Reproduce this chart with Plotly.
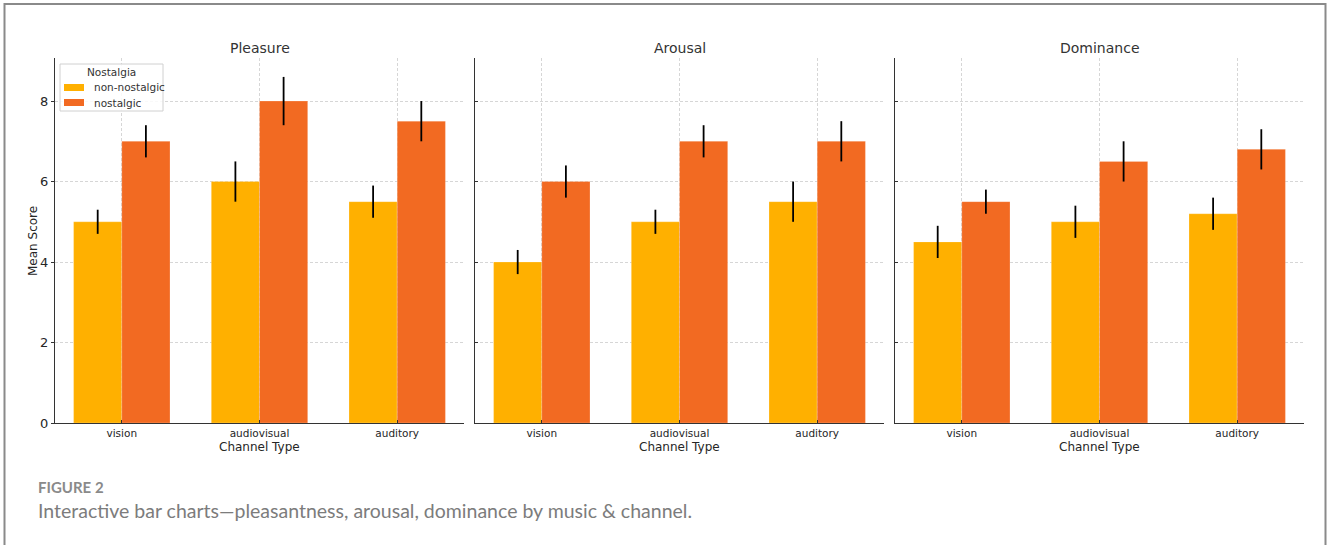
import plotly.graph_objects as go

W, H = 1328, 545

channels = ["vision", "audiovisual", "auditory"]
panels = ["Pleasure", "Arousal", "Dominance"]
groups = ["non-nostalgic", "nostalgic"]

# mean scores per panel
non_nostalgic_mean = {
    "Pleasure": [5.0, 6.0, 5.5],
    "Arousal": [4.0, 5.0, 5.5],
    "Dominance": [4.5, 5.0, 5.2],
}
nostalgic_mean = {
    "Pleasure": [7.0, 8.0, 7.5],
    "Arousal": [6.0, 7.0, 7.0],
    "Dominance": [5.5, 6.5, 6.8],
}
# error half-widths
non_nostalgic_err = {
    "Pleasure": [0.3, 0.5, 0.4],
    "Arousal": [0.3, 0.3, 0.5],
    "Dominance": [0.4, 0.4, 0.4],
}
nostalgic_err = {
    "Pleasure": [0.4, 0.6, 0.5],
    "Arousal": [0.4, 0.4, 0.5],
    "Dominance": [0.3, 0.5, 0.5],
}

colors = {"non-nostalgic": "#FFB000", "nostalgic": "#F26A22"}
font_main = "DejaVu Sans"
text_col = "#262626"

# vertical layout is worked out against this effective page height
HY = 537


def px_x(v):
    return v / W


def px_y(v):
    return 1 - v / HY


# panel placement in pixels (left, right) and plot vertical extent
panel_x = [(55, 464), (475, 884), (895, 1304)]
top_px, bottom_px = 58, 423

fig = go.Figure()
layout = {}
annotations = []
shapes = []

for i, name in enumerate(panels):
    ax = "" if i == 0 else str(i + 1)
    xref, yref = "x" + ax, "y" + ax
    for g, means, errs in (
        ("non-nostalgic", non_nostalgic_mean, non_nostalgic_err),
        ("nostalgic", nostalgic_mean, nostalgic_err),
    ):
        fig.add_trace(
            go.Bar(
                x=channels,
                y=means[name],
                name=g,
                legendgroup=g,
                showlegend=False,
                marker=dict(color=colors[g], line=dict(color="rgba(255,255,255,0.35)", width=0.6)),
                error_y=dict(type="data", array=errs[name], color="#000000", thickness=1.8, width=0),
                xaxis=xref,
                yaxis=yref,
                offsetgroup=g,
            )
        )
    x0, x1 = panel_x[i]
    layout["xaxis" + ax] = dict(
        domain=[px_x(x0), px_x(x1)],
        anchor=yref,
        type="category",
        range=[-0.485, 2.485],
        showline=True,
        linecolor="#333333",
        linewidth=1.2,
        ticks="inside",
        ticklen=3,
        tickcolor="#333333",
        tickfont=dict(family=font_main, size=10.5, color=text_col),
        showgrid=True,
        gridcolor="#d6d6d6",
        gridwidth=0.8,
        griddash="3px,2px",
        zeroline=False,
        fixedrange=True,
    )
    layout["yaxis" + ax] = dict(
        domain=[px_y(bottom_px), px_y(top_px)],
        anchor=xref,
        range=[0, 9.07],
        tickvals=[0, 2, 4, 6, 8],
        showticklabels=(i == 0),
        showline=True,
        linecolor="#333333",
        linewidth=1.2,
        ticks="outside" if i == 0 else "inside",
        ticklen=3,
        tickcolor="#333333",
        tickfont=dict(family=font_main, size=13, color=text_col),
        showgrid=True,
        gridcolor="#d6d6d6",
        gridwidth=0.8,
        griddash="3px,2px",
        zeroline=False,
        fixedrange=True,
    )
    if i > 0:
        layout["yaxis" + ax]["matches"] = "y"
    cx = (x0 + x1) / 2
    annotations.append(dict(
        text=name, x=px_x(cx), y=px_y(48), xref="paper", yref="paper",
        showarrow=False, xanchor="center", yanchor="middle",
        font=dict(family=font_main, size=14, color="#333333"),
    ))
    annotations.append(dict(
        text="Channel Type", x=px_x(cx), y=px_y(447), xref="paper", yref="paper",
        showarrow=False, xanchor="center", yanchor="middle",
        font=dict(family=font_main, size=12, color=text_col),
    ))

annotations.append(dict(
    text="Mean Score", x=px_x(33), y=px_y(241), xref="paper", yref="paper",
    showarrow=False, textangle=-90, xanchor="center", yanchor="middle",
    font=dict(family=font_main, size=12, color=text_col),
))
annotations.append(dict(
    text="<b>FIGURE 2</b>", x=px_x(36), y=px_y(487), xref="paper", yref="paper",
    showarrow=False, xanchor="left", yanchor="middle",
    font=dict(family="Lato", size=15, color="#8a8a8a"),
))
annotations.append(dict(
    text="Interactive bar charts\u2014pleasantness, arousal, dominance by music &amp; channel.",
    x=px_x(36), y=px_y(510), xref="paper", yref="paper",
    showarrow=False, xanchor="left", yanchor="middle",
    font=dict(family="Lato", size=19.5, color="#7c7c7c"),
))

# legend box for the two nostalgia groups
shapes.append(dict(
    type="rect", xref="paper", yref="paper",
    x0=px_x(60), x1=px_x(163), y0=px_y(111), y1=px_y(64),
    line=dict(color="#d0d0d0", width=1), fillcolor="rgba(255,255,255,0.85)", layer="above",
))
annotations.append(dict(
    text="Nostalgia", x=px_x(111.5), y=px_y(72.5), xref="paper", yref="paper",
    showarrow=False, xanchor="center", yanchor="middle",
    font=dict(family=font_main, size=10.5, color="#333333"),
))
for k, g in enumerate(groups):
    yc = 87.5 + 15 * k
    shapes.append(dict(
        type="rect", xref="paper", yref="paper",
        x0=px_x(64), x1=px_x(84), y0=px_y(yc + 3.5), y1=px_y(yc - 3.5),
        line=dict(width=0), fillcolor=colors[g], layer="above",
    ))
    annotations.append(dict(
        text=g, x=px_x(92), y=px_y(yc), xref="paper", yref="paper",
        showarrow=False, xanchor="left", yanchor="middle",
        font=dict(family=font_main, size=10.5, color="#333333"),
    ))

# outer frame
shapes.append(dict(
    type="rect", xref="paper", yref="paper",
    x0=px_x(4.5), x1=px_x(1325.5), y0=-0.05, y1=px_y(4),
    line=dict(color="#8a8a8a", width=2), fillcolor="rgba(0,0,0,0)", layer="above",
))

fig.update_layout(
    **layout,
    width=W,
    height=H,
    margin=dict(l=0, r=0, t=0, b=0),
    paper_bgcolor="white",
    plot_bgcolor="white",
    barmode="group",
    bargap=0.3,
    bargroupgap=0,
    showlegend=False,
    annotations=annotations,
    shapes=shapes,
)

fig.write_html("out.html")
